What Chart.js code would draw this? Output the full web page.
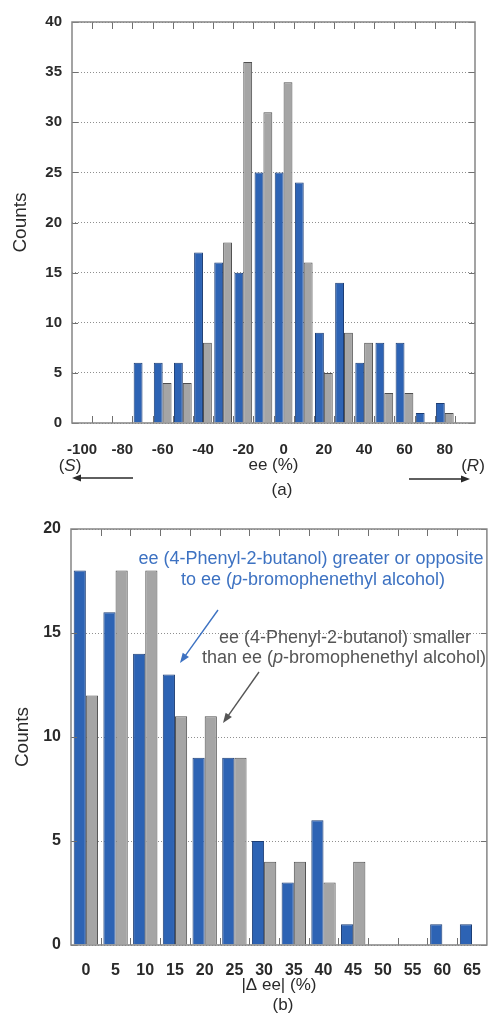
<!DOCTYPE html>
<html>
<head>
<meta charset="utf-8">
<script src="https://cdn.jsdelivr.net/npm/chart.js@4/dist/chart.umd.min.js"></script>
<style>
  html, body { margin: 0; padding: 0; background: #fff; }
  canvas { display: block; }
</style>
</head>
<body>
<canvas id="chartA" width="489" height="500"></canvas>
<canvas id="chartB" width="489" height="513"></canvas>
<script>
// (a) ee histogram, bins of 10 %
const eeBins = [-100, -90, -80, -70, -60, -50, -40, -30, -20, -10, 0, 10, 20, 30, 40, 50, 60, 70, 80, 90];
const eeBlue = [0, 0, 0, 6, 6, 6, 17, 16, 15, 25, 25, 24, 9, 14, 6, 8, 8, 1, 2, 0];
const eeGray = [0, 0, 0, 0, 4, 4, 8, 18, 36, 31, 34, 16, 5, 9, 8, 3, 3, 0, 1, 0];

// (b) |delta ee| histogram, bins of 5 %
const dBins = [0, 5, 10, 15, 20, 25, 30, 35, 40, 45, 50, 55, 60, 65];
const dBlue = [18, 16, 14, 13, 9, 9, 5, 3, 6, 1, 0, 0, 1, 1];
const dGray = [12, 18, 18, 11, 11, 9, 4, 4, 3, 4, 0, 0, 0, 0];

const FONT = "'Liberation Sans', Arial, Helvetica, sans-serif";
const BLUE = "#2d63b4";
const GRAY = "#a5a5a5";

function line(ctx, x1, y1, x2, y2) {
  ctx.beginPath();
  ctx.moveTo(x1, y1);
  ctx.lineTo(x2, y2);
  ctx.stroke();
}

function arrow(ctx, x1, y1, x2, y2, color, head) {
  const ang = Math.atan2(y2 - y1, x2 - x1);
  const c = Math.cos(ang), s = Math.sin(ang);
  ctx.strokeStyle = color;
  ctx.fillStyle = color;
  ctx.lineWidth = 1.4;
  line(ctx, x1, y1, x2 - c * head * 0.7, y2 - s * head * 0.7);
  ctx.beginPath();
  ctx.moveTo(x2, y2);
  ctx.lineTo(x2 - head * c + head * 0.38 * s, y2 - head * s - head * 0.38 * c);
  ctx.lineTo(x2 - head * c - head * 0.38 * s, y2 - head * s + head * 0.38 * c);
  ctx.closePath();
  ctx.fill();
}

// text made of runs, some italic, centred on cx
function runs(ctx, parts, cx, cy, size, color) {
  let total = 0;
  parts.forEach(p => {
    ctx.font = (p[1] ? "italic " : "") + size + "px " + FONT;
    total += ctx.measureText(p[0]).width;
  });
  let x = cx - total / 2;
  ctx.fillStyle = color;
  ctx.textAlign = "left";
  ctx.textBaseline = "middle";
  parts.forEach(p => {
    ctx.font = (p[1] ? "italic " : "") + size + "px " + FONT;
    ctx.fillText(p[0], x, cy);
    x += ctx.measureText(p[0]).width;
  });
}

// box round the plot + small inside ticks
const frameMarks = {
  id: "frameMarks",
  afterDatasetsDraw(chart) {
    const { ctx, chartArea: a, scales: { x, y } } = chart;
    ctx.save();
    ctx.strokeStyle = "#707070";
    ctx.lineWidth = 1;
    for (let i = 1; i < x.ticks.length; i++) {
      const px = Math.round((x.getPixelForValue(i - 1) + x.getPixelForValue(i)) / 2) + 0.5;
      line(ctx, px, a.top, px, a.top + 7);
      line(ctx, px, a.bottom, px, a.bottom - 7);
    }
    y.ticks.forEach(t => {
      const py = Math.round(y.getPixelForValue(t.value)) + 0.5;
      line(ctx, a.left, py, a.left + 6, py);
      line(ctx, a.right, py, a.right - 6, py);
    });
    ctx.lineWidth = 1.5;
    ctx.strokeStyle = "#858585";
    ctx.strokeRect(a.left, a.top, a.right - a.left, a.bottom - a.top);
    ctx.restore();
  }
};

function makeChart(id, bins, blue, gray, o) {
  return new Chart(document.getElementById(id), {
    type: "bar",
    data: {
      labels: bins.map(String),
      datasets: [
        { data: blue, backgroundColor: BLUE, borderColor: "#1c3d74", borderWidth: 1 },
        { data: gray, backgroundColor: GRAY, borderColor: "#505050", borderWidth: 1 }
      ]
    },
    options: {
      responsive: false,
      animation: false,
      barPercentage: 1,
      categoryPercentage: o.catPct,
      layout: { padding: o.pad },
      plugins: { legend: { display: false }, tooltip: { enabled: false } },
      scales: {
        x: {
          grid: { display: false },
          border: { display: false },
          ticks: {
            autoSkip: false,
            maxRotation: 0,
            padding: o.xTickPad,
            color: "#2a2a2a",
            font: { family: FONT, size: o.tickSize, weight: "bold" },
            callback: (v, i) => (i % o.every === 0 ? bins[i] : "")
          },
          title: {
            display: true,
            text: o.xTitle,
            color: "#2a2a2a",
            font: { family: FONT, size: 17 },
            padding: { top: 0, bottom: o.xTitlePad }
          },
          afterFit: s => { s.height = o.xHeight; }
        },
        y: {
          min: 0,
          max: o.yMax,
          grid: { color: "#8f8f8f", lineWidth: 1, drawTicks: false },
          border: { display: false, dash: [1, 2] },
          ticks: {
            stepSize: 5,
            padding: 10,
            color: "#2a2a2a",
            font: { family: FONT, size: o.tickSize, weight: "bold" }
          },
          title: {
            display: true,
            text: "Counts",
            color: "#2a2a2a",
            font: { family: FONT, size: 19 },
            padding: { top: o.yTitlePad, bottom: 0 }
          },
          afterFit: s => { s.width = o.yWidth; }
        }
      }
    },
    plugins: [frameMarks, o.notes]
  });
}

makeChart("chartA", eeBins, eeBlue, eeGray, {
  catPct: 0.88,
  pad: { top: 22, right: 14, left: 0, bottom: 0 },
  xTickPad: 10,
  tickSize: 15,
  every: 2,
  xTitle: "ee (%)",
  xTitlePad: 24,
  xHeight: 77,
  yMax: 40,
  yTitlePad: 9,
  yWidth: 72,
  notes: {
    id: "notesA",
    afterDraw(chart) {
      const ctx = chart.ctx;
      ctx.save();
      runs(ctx, [["(", false], ["S", true], [")", false]], 70, 466, 17, "#2a2a2a");
      runs(ctx, [["(", false], ["R", true], [")", false]], 473, 466, 17, "#2a2a2a");
      arrow(ctx, 133, 478, 72, 478, "#2a2a2a", 9);
      arrow(ctx, 409, 479, 470, 479, "#2a2a2a", 9);
      runs(ctx, [["(a)", false]], 282, 490, 17, "#2a2a2a");
      ctx.restore();
    }
  }
});

makeChart("chartB", dBins, dBlue, dGray, {
  catPct: 0.82,
  pad: { top: 29, right: 2, left: 0, bottom: 0 },
  xTickPad: 8,
  tickSize: 16,
  every: 1,
  xTitle: "|\u0394 ee| (%)",
  xTitlePad: 17,
  xHeight: 68,
  yMax: 20,
  yTitlePad: 11,
  yWidth: 71,
  notes: {
    id: "notesB",
    afterDraw(chart) {
      const ctx = chart.ctx;
      ctx.save();
      const c1 = "#3d72c2", c2 = "#555555";
      runs(ctx, [["ee (4-Phenyl-2-butanol) greater or opposite", false]], 311, 59, 18, c1);
      runs(ctx, [["to ee (", false], ["p", true], ["-bromophenethyl alcohol)", false]], 313, 80, 18, c1);
      arrow(ctx, 218, 110, 180, 163, c1, 10);
      runs(ctx, [["ee (4-Phenyl-2-butanol) smaller", false]], 345, 138, 18, c2);
      runs(ctx, [["than ee (", false], ["p", true], ["-bromophenethyl alcohol)", false]], 344, 158, 18, c2);
      arrow(ctx, 259, 172, 223, 223, c2, 10);
      runs(ctx, [["(b)", false]], 283, 505, 17, "#2a2a2a");
      ctx.restore();
    }
  }
});
</script>
</body>
</html>
